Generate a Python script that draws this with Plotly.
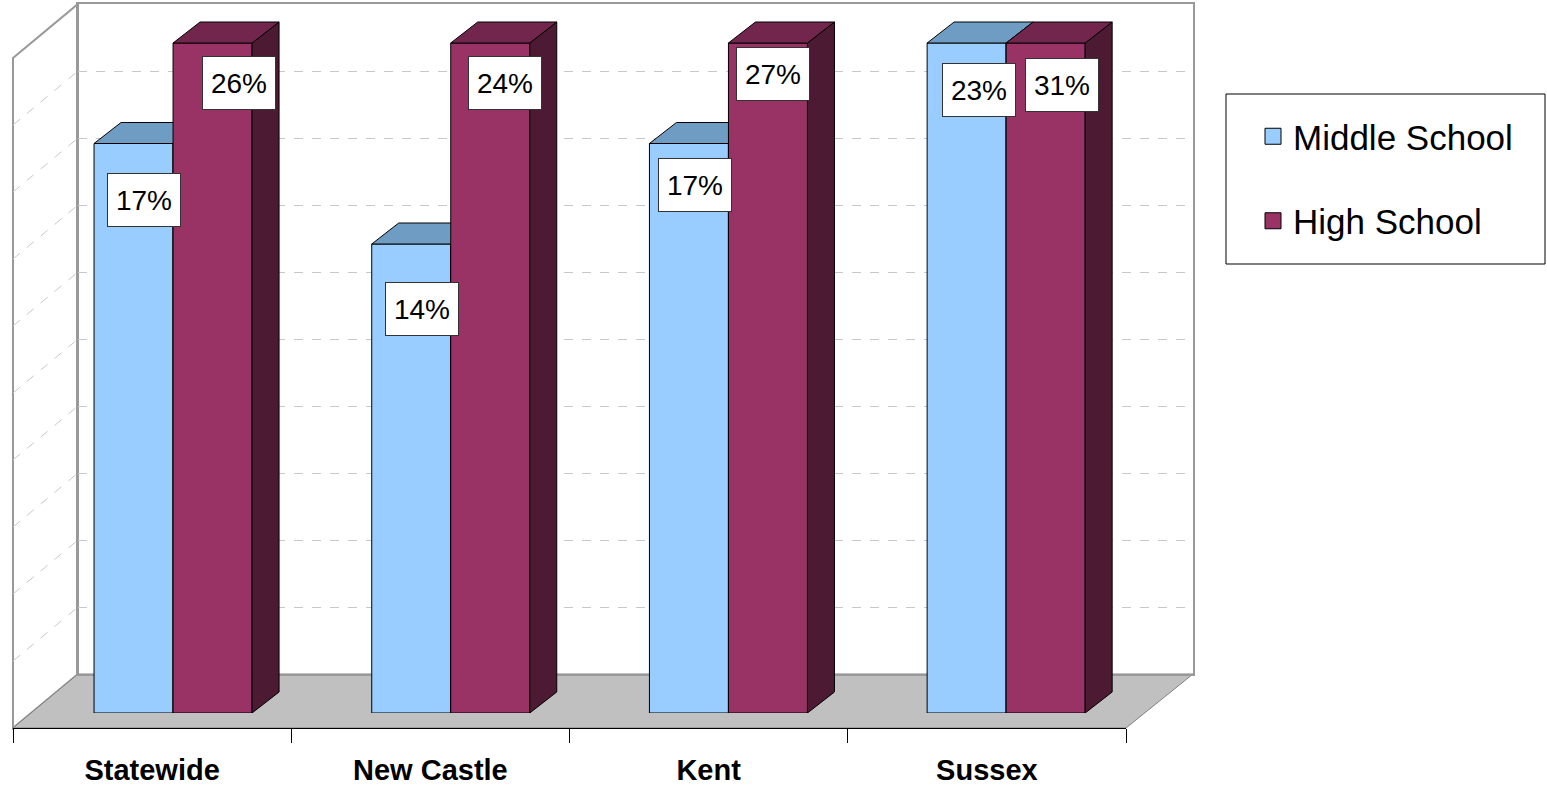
import plotly.graph_objects as go
import numpy as np

# ---------------- data ----------------
categories = ["Statewide", "New Castle", "Kent", "Sussex"]
middle_school = [17, 14, 17, 23]
high_school = [26, 24, 27, 31]
series_names = ["Middle School", "High School"]
y_max = 20      # value axis maximum (%); taller bars are cut off at it
grid_step = 2

# ---------------- styling / geometry (pixels) ----------------
W, H = 1547, 787
MS_FRONT, MS_TOP, MS_SIDE = "#99CCFF", "#6F9CC2", "#4C6680"
HS_FRONT, HS_TOP, HS_SIDE = "#993366", "#73264D", "#4D1A33"
FONT = "Arial, Liberation Sans, sans-serif"

BACK_X0, BACK_X1, BACK_Y0, BACK_Y1 = 78, 1193, 4, 674
FRONT_X0, FRONT_X1, FRONT_Y = 13, 1126, 728
WALL_DX, WALL_DY = BACK_X0 - FRONT_X0, FRONT_Y - BACK_Y1
BAR_X0, BAR_X1 = 34.2, 1145
BAR_BASE, BAR_TOP = 713, 43
DEPTH_PX = (27, 21)
BAR_W = 0.2845

# label offsets (px) relative to bar top centre: (dx, dy up)
ms_label_shift = [(10, -56), (11, -65), (6, -41), (12, -47)]
hs_label_shift = [(26, -40), (15, -40), (5, -31), (16, -42)]


def PX(x):
    return x / W


def PY(y):
    return 1 - y / H


n = len(categories)
idx = np.arange(n)
x_unit = (BAR_X1 - BAR_X0) / n
y_unit = (BAR_BASE - BAR_TOP) / y_max
ddx = DEPTH_PX[0] / x_unit
ddy = DEPTH_PX[1] / y_unit
y_top_ext = y_max * BAR_BASE / (BAR_BASE - BAR_TOP)

ms_shown = np.minimum(middle_school, y_max)
hs_shown = np.minimum(high_school, y_max)


def faces(shown, offset):
    xt, yt, xs, ys = [], [], [], []
    for i, top in enumerate(shown):
        xl = i + offset
        xr = xl + BAR_W
        xt += [xl, xr, xr + ddx, xl + ddx, xl, None]
        yt += [top, top, top + ddy, top + ddy, top, None]
        xs += [xr, xr + ddx, xr + ddx, xr, xr, None]
        ys += [0, ddy, top + ddy, top, 0, None]
    return xt, yt, xs, ys


fig = go.Figure()

# back-wall subplot (grid only)
fig.add_trace(go.Scatter(x=[None], y=[None], xaxis="x", yaxis="y",
                         showlegend=False, hoverinfo="skip"))

# Middle school bars + 3D faces
fig.add_trace(go.Bar(x=idx, y=ms_shown, offset=-BAR_W, width=BAR_W,
                     marker=dict(color=MS_FRONT, line=dict(color="black", width=1)),
                     xaxis="x2", yaxis="y2", showlegend=False, hoverinfo="skip"))
xt, yt, xs, ys = faces(ms_shown, -BAR_W)
fig.add_trace(go.Scatter(x=xs, y=ys, fill="toself", mode="lines", fillcolor=MS_SIDE,
                         line=dict(color="black", width=1), xaxis="x2", yaxis="y2",
                         showlegend=False, hoverinfo="skip"))
fig.add_trace(go.Scatter(x=xt, y=yt, fill="toself", mode="lines", fillcolor=MS_TOP,
                         line=dict(color="black", width=1), xaxis="x2", yaxis="y2",
                         showlegend=False, hoverinfo="skip"))

# High school bars + 3D faces (overlaid subplot, drawn on top)
fig.add_trace(go.Bar(x=idx, y=hs_shown, offset=0, width=BAR_W,
                     marker=dict(color=HS_FRONT, line=dict(color="black", width=1)),
                     xaxis="x3", yaxis="y3", showlegend=False, hoverinfo="skip"))
xt, yt, xs, ys = faces(hs_shown, 0)
fig.add_trace(go.Scatter(x=xs, y=ys, fill="toself", mode="lines", fillcolor=HS_SIDE,
                         line=dict(color="black", width=1), xaxis="x3", yaxis="y3",
                         showlegend=False, hoverinfo="skip"))
fig.add_trace(go.Scatter(x=xt, y=yt, fill="toself", mode="lines", fillcolor=HS_TOP,
                         line=dict(color="black", width=1), xaxis="x3", yaxis="y3",
                         showlegend=False, hoverinfo="skip"))

# category axis subplot
fig.add_trace(go.Scatter(x=[None], y=[None], xaxis="x4", yaxis="y4",
                         showlegend=False, hoverinfo="skip"))

# legend entries
for name, col in zip(series_names, [MS_FRONT, HS_FRONT]):
    fig.add_trace(go.Scatter(x=[None], y=[None], mode="markers", name=name,
                             legendgroup=name, xaxis="x4", yaxis="y4",
                             marker=dict(symbol="square", size=22, color=col,
                                         line=dict(color="black", width=1))))

# data labels
annotations = []
for vals, shown, offset, shifts, xr, yr in [
        (middle_school, ms_shown, -BAR_W / 2, ms_label_shift, "x2", "y2"),
        (high_school, hs_shown, BAR_W / 2, hs_label_shift, "x3", "y3")]:
    for i, (v, top) in enumerate(zip(vals, shown)):
        annotations.append(dict(
            x=i + offset, y=top, xref=xr, yref=yr, text=f"{v}%", showarrow=False,
            xshift=shifts[i][0], yshift=shifts[i][1],
            font=dict(family=FONT, size=28, color="black"),
            bgcolor="white", bordercolor="#333333", borderwidth=1, borderpad=7,
            width=58, height=38))

# walls / floor shapes
def poly(pts):
    return "M " + " L ".join(f"{PX(x):.6f},{PY(y):.6f}" for x, y in pts) + " Z"


shapes = []
shapes.append(dict(type="path", xref="paper", yref="paper", layer="below",
                   path=poly([(FRONT_X0, BACK_Y0 + WALL_DY), (BACK_X0, BACK_Y0),
                              (BACK_X0, BACK_Y1), (FRONT_X0, FRONT_Y)]),
                   fillcolor="white", line=dict(color="#999999", width=2)))
for t in np.arange(grid_step, y_max, grid_step):
    gy = BACK_Y1 - t * (BACK_Y1 - BACK_Y0) / y_max
    shapes.append(dict(type="line", xref="paper", yref="paper", layer="below",
                       x0=PX(FRONT_X0), y0=PY(gy + WALL_DY), x1=PX(BACK_X0), y1=PY(gy),
                       line=dict(color="#C8C8C8", width=1, dash="dash")))
shapes.append(dict(type="path", xref="paper", yref="paper", layer="below",
                   path=poly([(FRONT_X0, FRONT_Y), (FRONT_X1, FRONT_Y),
                              (BACK_X1, BACK_Y1), (BACK_X0, BACK_Y1)]),
                   fillcolor="#C0C0C0", line=dict(color="#808080", width=1)))
# legend frame
shapes.append(dict(type="rect", xref="paper", yref="paper", layer="above",
                   x0=PX(1226), x1=PX(1545), y0=PY(264), y1=PY(94),
                   line=dict(color="black", width=1), fillcolor="rgba(0,0,0,0)"))

hidden = dict(visible=False, showgrid=False, zeroline=False, fixedrange=True)

fig.update_layout(
    width=W, height=H, autosize=False,
    margin=dict(l=0, r=0, t=0, b=0),
    paper_bgcolor="white", plot_bgcolor="rgba(0,0,0,0)",
    hovermode=False,
    xaxis=dict(domain=[PX(BACK_X0), PX(BACK_X1)], range=[0, 1], anchor="y",
               showgrid=False, zeroline=False, showticklabels=False, ticks="",
               showline=True, mirror=True, linecolor="#999999", linewidth=2),
    yaxis=dict(domain=[PY(BACK_Y1), PY(BACK_Y0)], range=[0, y_max], anchor="x",
               dtick=grid_step, showgrid=True, gridcolor="#C8C8C8", griddash="dash",
               gridwidth=1, zeroline=False, showticklabels=False, ticks="",
               showline=True, mirror=True, linecolor="#999999", linewidth=2),
    xaxis2=dict(domain=[PX(BAR_X0), PX(BAR_X1)], range=[-0.5, n - 0.5], anchor="y2", **hidden),
    yaxis2=dict(domain=[PY(BAR_BASE), 1], range=[0, y_top_ext], anchor="x2", **hidden),
    xaxis3=dict(domain=[PX(BAR_X0), PX(BAR_X1)], range=[-0.5, n - 0.5], anchor="y3",
                overlaying="x2", **hidden),
    yaxis3=dict(domain=[PY(BAR_BASE), 1], range=[0, y_top_ext], anchor="x3",
                overlaying="y2", **hidden),
    xaxis4=dict(domain=[PX(FRONT_X0), PX(FRONT_X1)], range=[0, n], anchor="y4",
                tickvals=list(idx + 0.5), ticktext=categories, ticks="",
                showline=True, linecolor="black", linewidth=1,
                showgrid=False, zeroline=False, fixedrange=True,
                ticklabelstandoff=16,
                tickfont=dict(family=FONT, size=29, color="black", weight="bold"),
                minor=dict(tickvals=list(range(n + 1)), ticks="outside", ticklen=14,
                           tickcolor="black", tickwidth=1, showgrid=False)),
    yaxis4=dict(domain=[PY(FRONT_Y), PY(FRONT_Y - 20)], range=[0, 1], anchor="x4", **hidden),
    barmode="overlay",
    showlegend=True,
    legend=dict(x=PX(1253), y=PY(107), xanchor="left", yanchor="top",
                bgcolor="rgba(0,0,0,0)", borderwidth=0, tracegroupgap=36,
                font=dict(family=FONT, size=35, color="black")),
    annotations=annotations,
    shapes=shapes,
)

fig.write_html("out.html", config={"displayModeBar": False},
               post_script="document.body.style.margin='0';document.body.style.overflow='hidden';")
